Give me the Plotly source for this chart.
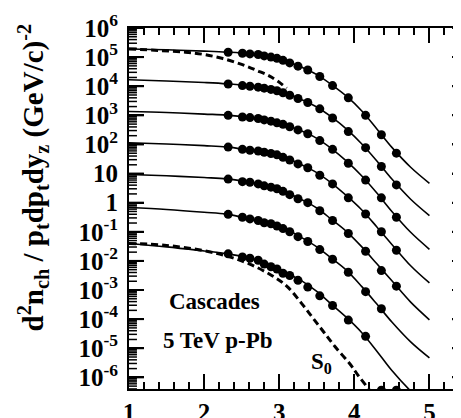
import math
import plotly.graph_objects as go

# ---------------- data ----------------
pt_points = [2.32, 2.51, 2.61, 2.72, 2.80, 2.89, 2.97, 3.05, 3.14, 3.25,
             3.38, 3.54, 3.71, 3.92, 4.15, 4.36, 4.56]

row1_pts = [1.47e5, 1.36e5, 1.29e5, 1.23e5, 1.10e5, 1.00e5, 9.06e4, 7.76e4, 6.31e4,
            4.90e4, 3.61e4, 2.15e4, 1.05e4, 3.98e3, 1.00e3, 215, 50.1]
row2_pts = [1.19e4, 1.05e4, 1.00e4, 9.27e3, 8.57e3, 7.76e3, 6.97e3, 5.98e3, 4.90e3,
            3.78e3, 2.77e3, 1.67e3, 813, 277, 77.6, 17.5, 4.07]
row3_pts = [1000, 877, 838, 776, 697, 631, 553, 490, 407, 316, 233, 136, 68.1,
            22.7, 5.98, 1.47, 0.316]
row4_pts = [81.3, 68.1, 63.1, 59.8, 54.1, 49.0, 44.0, 36.1, 29.3, 21.5, 15.8, 8.77,
            4.40, 1.47, 0.407, 0.100, 0.0233]
row5_pts = [6.46, 5.28, 5.01, 4.40, 3.78, 3.41, 3.00, 2.45, 1.89, 1.36, 1.0, 0.529,
            0.245, 0.0877, 0.0215, 0.00464, 0.00136]
row6_pts = [0.398, 0.316, 0.277, 0.245, 0.204, 0.189, 0.158, 0.129, 0.1, 0.0681,
            0.0464, 0.0245, 0.0114, 0.00407, 8.77e-4, 2.27e-4, None]
row7_pts = [0.0175, 0.0136, 0.0123, 0.0105, 7.76e-3, 6.31e-3, 5.28e-3, 3.78e-3,
            3.16e-3, 2.15e-3, 1.26e-3, 6.31e-4, 2.93e-4, 9.26e-5, 2.57e-5, 3.6e-7, 3.6e-7]

pt_curve = [1.0, 1.5, 2.0, 2.3, 2.6, 2.9, 3.1, 3.3, 3.5, 3.7, 3.9, 4.1, 4.3, 4.5, 4.75, 5.0]
row1_fit = [1.89e5, 1.78e5, 1.61e5, 1.49e5, 1.31e5, 1.0e5, 7.08e4, 4.47e4, 2.51e4,
            1.12e4, 4.47e3, 1.41e3, 341, 79.4, 16.5, 4.64]
row2_fit = [1.67e4, 1.52e4, 1.34e4, 1.21e4, 1.02e4, 7.76e3, 5.46e3, 3.44e3, 1.94e3,
            865, 329, 104, 27.1, 6.46, 1.31, 0.360]
row3_fit = [1.36e3, 1.25e3, 1.10e3, 1.02e3, 845, 631, 447, 288, 162, 70.8, 26.1,
            8.26, 2.15, 0.501, 0.0962, 0.0251]
row4_fit = [114, 104, 91.2, 82.6, 64.1, 49.0, 33.6, 20.0, 10.8, 4.64, 1.71, 0.562,
            0.147, 0.0369, 6.81e-3, 1.75e-3]
row5_fit = [9.26, 8.38, 7.30, 6.56, 5.01, 3.41, 2.24, 1.26, 0.656, 0.261, 0.1,
            0.0304, 7.94e-3, 2.07e-3, 3.83e-4, 9.48e-5]
row6_fit = [0.681, 0.585, 0.471, 0.404, 0.282, 0.189, 0.121, 0.0631, 0.0304, 0.0121,
            4.64e-3, 1.31e-3, 3.29e-4, 7.94e-5, 1.65e-5, 4.64e-6]
row7_fit = [0.0398, 0.0304, 0.0219, 0.0178, 0.0126, 6.81e-3, 3.83e-3, 2.07e-3,
            8.91e-4, 3.16e-4, 1.12e-4, 3.41e-5, 7.94e-6, 1.71e-6, 3.41e-7, 9.26e-8]

s0_top_x = [1.0, 1.4, 1.75, 2.0, 2.25, 2.5, 2.7, 2.9, 3.1]
s0_top_y = [1.89e5, 1.69e5, 1.47e5, 1.23e5, 8.91e4, 5.62e4, 3.49e4, 2.04e4, 8.58e3]
s0_bot_x = [1.0, 1.5, 2.0, 2.3, 2.6, 2.9, 3.1, 3.3, 3.45, 3.6, 3.75, 3.95, 4.05, 4.2, 4.3]
s0_bot_y = [0.0398, 0.0341, 0.0224, 0.0147, 7.94e-3, 3.16e-3, 1.36e-3, 3.41e-4,
            1.08e-4, 3.41e-5, 1.08e-5, 2.71e-6, 1.17e-6, 3.69e-7, 1.47e-7]

y_tick_vals = [1e6, 1e5, 1e4, 1e3, 1e2, 1e1, 1, 1e-1, 1e-2, 1e-3, 1e-4, 1e-5, 1e-6]
y_tick_text = ["10<sup>6</sup>", "10<sup>5</sup>", "10<sup>4</sup>", "10<sup>3</sup>",
               "10<sup>2</sup>", "10", "1", "10<sup>-1</sup>", "10<sup>-2</sup>",
               "10<sup>-3</sup>", "10<sup>-4</sup>", "10<sup>-5</sup>", "10<sup>-6</sup>"]
x_tick_vals = [1, 2, 3, 4, 5]

# ---------------- figure ----------------
FONT = "Liberation Serif"
W, H = 461, 418
ML, MR, MT, MB = 121, 0, 20, 26
PW, PH = W - ML - MR, H - MT - MB
Y_RANGE = [-6.4, 6.0]
X_RANGE = [1, 5.5]

fig = go.Figure()

fits = [row1_fit, row2_fit, row3_fit, row4_fit, row5_fit, row6_fit, row7_fit]
pts = [row1_pts, row2_pts, row3_pts, row4_pts, row5_pts, row6_pts, row7_pts]

for f in fits:
    fig.add_trace(go.Scatter(x=pt_curve, y=f, mode="lines",
                             line=dict(color="black", width=1.6, shape="spline"),
                             showlegend=False, hoverinfo="skip"))

fig.add_trace(go.Scatter(x=s0_top_x, y=s0_top_y, mode="lines",
                         line=dict(color="black", width=3, dash="7px,4px", shape="spline"),
                         showlegend=False))
fig.add_trace(go.Scatter(x=s0_bot_x, y=s0_bot_y, mode="lines",
                         line=dict(color="black", width=3, dash="7px,4px", shape="spline"),
                         showlegend=False))

for p in pts:
    fig.add_trace(go.Scatter(x=pt_points, y=p, mode="markers",
                             marker=dict(color="black", size=9, symbol="circle"),
                             showlegend=False))

# ---- log minor tick marks (inside, left and right), paper coords ----
shapes = []
def ytick(logv, length, width):
    fy = (logv - Y_RANGE[0]) / (Y_RANGE[1] - Y_RANGE[0])
    for x0, x1 in ((0, length / PW), (1 - length / PW, 1)):
        shapes.append(dict(type="line", xref="paper", yref="paper", x0=x0, x1=x1,
                           y0=fy, y1=fy, layer="above",
                           line=dict(color="black", width=width)))

for k in range(-7, 7):
    for m in range(2, 10):
        lv = k + math.log10(m)
        if Y_RANGE[0] < lv < Y_RANGE[1]:
            ytick(lv, 8, 1.5)
    if Y_RANGE[0] <= k <= Y_RANGE[1]:
        ytick(k, 15, 2)

fig.update_layout(
    shapes=shapes,
    xaxis=dict(range=X_RANGE, tickmode="array", tickvals=x_tick_vals,
               ticks="inside", ticklen=15, tickwidth=2, tickcolor="black",
               showline=True, linewidth=2, linecolor="black", mirror="allticks",
               showgrid=False, zeroline=False,
               tickfont=dict(family=FONT, size=25, color="black", weight="bold"),
               minor=dict(ticks="inside", ticklen=7, tickwidth=1.5, tickcolor="black",
                          dtick=0.2, tick0=1, showgrid=False)),
    yaxis=dict(type="log", range=Y_RANGE, tickmode="array",
               tickvals=y_tick_vals, ticktext=y_tick_text,
               ticks="inside", ticklen=15, tickwidth=2, tickcolor="black",
               showline=True, linewidth=2, linecolor="black", mirror="allticks",
               showgrid=False, zeroline=False, ticklabelstandoff=4,
               tickfont=dict(family=FONT, size=25, color="black", weight="bold")),
)

ann_font = dict(family=FONT, size=23, color="black", weight="bold")
fig.add_annotation(x=1.5, y=-3.4, xref="x", yref="y", text="Cascades",
                   showarrow=False, font=ann_font, xanchor="left")
fig.add_annotation(x=1.42, y=-4.73, xref="x", yref="y", text="5 TeV p-Pb",
                   showarrow=False, font=ann_font, xanchor="left")
fig.add_annotation(x=3.4, y=-5.5, xref="x", yref="y", text="S<sub>0</sub>",
                   showarrow=False, font=ann_font, xanchor="left")

fig.add_annotation(xref="paper", yref="paper", x=-0.285, y=0.585,
                   text="d<sup>2</sup>n<sub>ch</sub> / p<sub>t</sub>dp<sub>t</sub>dy<sub>z</sub> (GeV/c)<sup>-2</sup>",
                   textangle=-90, showarrow=False, xanchor="center", yanchor="middle",
                   font=dict(family=FONT, size=29, color="black", weight="bold"))

fig.update_layout(width=W, height=H,
                  margin=dict(l=ML, r=MR, t=MT, b=MB),
                  plot_bgcolor="white", paper_bgcolor="white", showlegend=False)

fig.write_html("out.html")
